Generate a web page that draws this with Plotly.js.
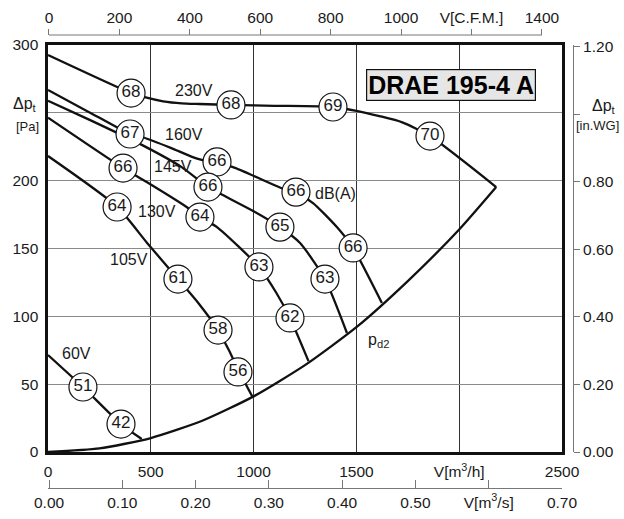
<!DOCTYPE html>
<html>
<head>
<meta charset="utf-8">
<script src="https://cdn.plot.ly/plotly-3.0.1.min.js"></script>
<style>html,body{margin:0;padding:0;background:#fff;}#chart{width:624px;height:519px;}</style>
</head>
<body>
<div id="chart"></div>
<script>
// ---------- data (m3/h , Pa) ----------
const v230_x = [0, 404, 470, 560, 650, 738, 890, 1100, 1386, 1500, 1612, 1723, 1858, 2180];
const v230_y = [292.6, 264.6, 261.5, 258.5, 257, 256.5, 255.8, 255.2, 254.3, 251.5, 247.6, 243, 232.9, 195.3];
const v160_x = [0, 200, 399, 461, 600, 704, 822, 900, 1128, 1206, 1289, 1405, 1484, 1624];
const v160_y = [266.8, 250.5, 234.4, 232, 224, 217.4, 212.5, 210, 195, 191, 183.5, 165.8, 150.4, 109.8];
const v145_x = [0, 200, 461, 650, 778, 868, 1000, 1128, 1226, 1347, 1454];
const v145_y = [258.9, 245, 226, 210, 195.3, 188, 177.5, 165.8, 154, 127.5, 87.7];
const v130_x = [0, 365, 480, 674, 739, 822, 1026, 1111, 1177, 1267];
const v130_y = [246.4, 209.3, 199, 180.6, 173.2, 165.8, 136.4, 117.2, 98.8, 67];
const v105_x = [0, 336, 480, 632, 730, 827, 880, 924, 995];
const v105_y = [218.2, 180.8, 154.5, 127.5, 110, 89.9, 75, 61, 40.5];
const v60_x = [0, 170, 355, 456];
const v60_y = [71.5, 47.9, 20.6, 9.6];
const pd2_x = [0, 250, 500, 750, 1000, 1250, 1500, 1750, 2000, 2180];
const pd2_y = [0, 2.6, 10.3, 23, 41, 64, 92, 126, 164, 195.3];

// dB(A) markers
const db_x = [404, 890, 1386, 1858, 399, 822, 1206, 365, 778, 336, 739, 1128, 1026, 1347, 1484, 632, 1177, 827, 924, 170, 355];
const db_y = [264.6, 255.8, 254.3, 232.9, 234.4, 213.8, 191.6, 209.3, 195.3, 180.6, 173.2, 165.8, 136.4, 127.5, 150.4, 127.5, 98.8, 89.9, 59, 47.9, 20.6];
const db_v = ['68', '68', '69', '70', '67', '66', '66', '66', '66', '64', '64', '65', '63', '63', '66', '61', '62', '58', '56', '51', '42'];

// curve labels
const lbl_text = ['230V', '160V', '145V', '130V', '105V', '60V', 'dB(A)', 'p<sub>d2</sub>'];
const lbl_x = [712, 663, 609, 529, 396, 140, 1396, 1607];
const lbl_y = [266.3, 234, 210.3, 177.6, 142, 72.7, 190.2, 82.5];

// axis ticks
const m3h_ticks = [0, 500, 1000, 1500, 2000, 2500];
const m3h_text = ['0', '500', '1000', '1500', 'V[m<sup>3</sup>/h]', '2500'];
const pa_ticks = [0, 50, 100, 150, 200, 250, 300];
const pa_text = ['0', '50', '100', '150', '200', ' ', '300'];
const cfm_ticks = [0, 200, 400, 600, 800, 1000, 1200, 1400];
const cfm_text = ['0', '200', '400', '600', '800', '1000', 'V[C.F.M.]', '1400'];
const m3s_ticks = [0, 0.1, 0.2, 0.3, 0.4, 0.5, 0.6, 0.7];
const m3s_text = ['0.00', '0.10', '0.20', '0.30', '0.40', '0.50', 'V[m<sup>3</sup>/s]', '0.70'];
const inwg_ticks = [0, 0.2, 0.4, 0.6, 0.8, 1.0, 1.2];
const inwg_text = ['0.00', '0.20', '0.40', '0.60', '0.80', ' ', '1.20'];
const titleText = 'DRAE 195-4 A';

// ---------- build ----------
const FONT = 'Liberation Sans, Arial, sans-serif';
const TXT = '#1a1a1a';
const LINE = '#111';
function curve(x, y) {
  return {x: x, y: y, type: 'scatter', mode: 'lines', line: {color: LINE, width: 2.3, shape: 'spline', smoothing: 0.6},
          hoverinfo: 'skip', showlegend: false, cliponaxis: false};
}
const traces = [
  curve(v230_x, v230_y), curve(v160_x, v160_y), curve(v145_x, v145_y), curve(v130_x, v130_y),
  curve(v105_x, v105_y), curve(v60_x, v60_y), curve(pd2_x, pd2_y),
  {x: db_x, y: db_y, text: db_v, type: 'scatter', mode: 'markers+text', textposition: 'middle center',
   marker: {symbol: 'circle', size: 28, color: '#fff', line: {color: LINE, width: 1.2}},
   textfont: {family: FONT, size: 17, color: TXT}, cliponaxis: false, showlegend: false, hoverinfo: 'skip'}
];

const W = 624, H = 519;
const mL = 48, mR = 51, mT = 35, mB = 31;
const pw = W - mL - mR, ph = H - mT - mB;
function px(x) { return (x - mL) / pw; }
function py(y) { return (H - mB - y) / ph; }

const annotations = lbl_text.map((t, i) => ({
  x: lbl_x[i], y: lbl_y[i], xref: 'x', yref: 'y', text: t, showarrow: false,
  xanchor: 'center', yanchor: 'middle',
  font: {family: FONT, size: 16, color: TXT}
}));
function paperLabel(x, y, t, size) {
  return {x: px(x), y: py(y), xref: 'paper', yref: 'paper', text: t, showarrow: false,
          xanchor: 'center', yanchor: 'middle', font: {family: FONT, size: size, color: TXT}};
}
annotations.push(
  {x: 1960, y: 270.2, xref: 'x', yref: 'y', text: '<b>' + titleText + '</b>', showarrow: false,
   xanchor: 'center', yanchor: 'middle',
   font: {family: FONT, size: 25, color: '#000'}, bgcolor: '#e6e6e6', bordercolor: '#111', borderwidth: 1.2, borderpad: 1},
  paperLabel(25, 104, 'Δp<sub>t</sub>', 16),
  paperLabel(27, 126, '[Pa]', 13),
  paperLabel(604, 106, 'Δp<sub>t</sub>', 16),
  paperLabel(597, 125, '[in.WG]', 13)
);

const tickFont = {family: FONT, size: 15.5, color: TXT};
const layout = {
  width: W, height: H,
  margin: {l: mL, r: mR, t: mT, b: mB, pad: 0},
  paper_bgcolor: '#fff', plot_bgcolor: '#fff',
  showlegend: false,
  xaxis: {range: [0, 2500], domain: [0, (562 - mL) / pw], tickvals: m3h_ticks, ticktext: m3h_text,
          ticks: '', showgrid: true, gridcolor: '#333', gridwidth: 1, zeroline: false,
          showline: true, mirror: true, linecolor: LINE, linewidth: 2.6, tickfont: tickFont, ticklabelstandoff: 4},
  yaxis: {range: [0, 300], domain: [py(452), py(45)], tickvals: pa_ticks, ticktext: pa_text,
          ticks: '', showgrid: true, gridcolor: '#8a8a8a', gridwidth: 1.1, zeroline: false,
          showline: true, mirror: true, linecolor: LINE, linewidth: 2.6, tickfont: tickFont, ticklabelstandoff: 4},
  xaxis2: {overlaying: 'x', side: 'top', anchor: 'free', position: 1, range: [-2.8, 1457],
           tickvals: cfm_ticks, ticktext: cfm_text, ticks: 'outside', ticklen: 6, tickwidth: 1, tickcolor: '#777',
           showgrid: false, zeroline: false, showline: false, tickfont: tickFont},
  xaxis3: {overlaying: 'x', side: 'bottom', anchor: 'free', position: 0, range: [-0.0014, 0.7],
           tickvals: m3s_ticks, ticktext: m3s_text, ticks: 'inside', ticklen: 8, tickwidth: 1, tickcolor: '#777',
           showgrid: false, zeroline: false, showline: true, linecolor: '#777', linewidth: 1, tickfont: tickFont},
  yaxis2: {overlaying: 'y', side: 'right', anchor: 'free', position: 1, range: [0, 1.205],
           tickvals: inwg_ticks, ticktext: inwg_text, ticks: 'outside', ticklen: 6, tickwidth: 1, tickcolor: '#777',
           showgrid: false, zeroline: false, showline: true, linecolor: '#777', linewidth: 1, tickfont: tickFont},
  shapes: [
    {type: 'line', xref: 'x2', yref: 'paper', x0: cfm_ticks[0], x1: cfm_ticks[cfm_ticks.length - 1], y0: 1, y1: 1,
     line: {color: '#777', width: 1}}
  ],
  annotations: annotations
};

// invisible helpers so the overlay axes are registered
traces.push({x: [cfm_ticks[0]], y: [0], xaxis: 'x2', yaxis: 'y', mode: 'markers', marker: {opacity: 0}, hoverinfo: 'skip', showlegend: false});
traces.push({x: [m3s_ticks[0]], y: [0], xaxis: 'x3', yaxis: 'y', mode: 'markers', marker: {opacity: 0}, hoverinfo: 'skip', showlegend: false});
traces.push({x: [0], y: [inwg_ticks[0]], xaxis: 'x', yaxis: 'y2', mode: 'markers', marker: {opacity: 0}, hoverinfo: 'skip', showlegend: false});

Plotly.newPlot('chart', traces, layout, {staticPlot: true, displayModeBar: false});
</script>
</body>
</html>
